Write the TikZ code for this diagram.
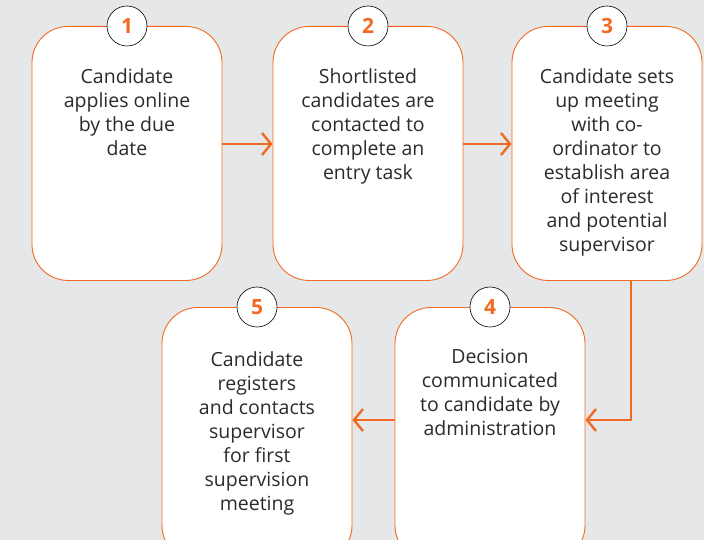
\documentclass[tikz,border=0pt]{standalone}
\usepackage{fontspec}
\setmainfont{Open Sans}
\usetikzlibrary{arrows.meta}
\definecolor{bg}{HTML}{E6E7E8}
\definecolor{orng}{HTML}{F26A21}
\definecolor{txt}{HTML}{2B2B2B}
\tikzset{
  stepbox/.style={draw=orng, line width=0.9pt, fill=white, rounded corners=36pt,
    minimum width=190pt, minimum height=254pt, inner sep=0pt, anchor=north},
  boxtext/.style={anchor=north, align=center, text=txt, inner sep=0pt,
    font=\fontsize{19.5pt}{24pt}\selectfont},
  numcirc/.style={circle, draw=black, line width=0.6pt, fill=white, minimum size=40pt,
    inner sep=0pt, text=orng, font=\fontsize{21pt}{24pt}\selectfont\bfseries},
  flow/.style={draw=orng, line width=2.4pt, -{Straight Barb[length=9pt,width=22pt,line width=2.4pt]}}
}
\begin{document}
\begin{tikzpicture}[x=1pt,y=-1pt]
\fill[bg] (0,0) rectangle (704,540);
\useasboundingbox (0,0) rectangle (704,540);
\begin{scope}
\clip (0,0) rectangle (704,540);
\node[stepbox] (b1) at (127,26) {};
\node[stepbox] (b2) at (368,26) {};
\node[stepbox] (b3) at (607,26) {};
\node[stepbox] (b5) at (257,307) {};
\node[stepbox] (b4) at (490,307) {};
\end{scope}
\node[numcirc] (c1) at (b1.north) {1};
\node[numcirc] (c2) at (b2.north) {2};
\node[numcirc] (c3) at (b3.north) {3};
\node[numcirc] (c5) at (b5.north) {5};
\node[numcirc] (c4) at (b4.north) {4};
\node[boxtext] (t1) at ([yshift=-42pt]b1.north) {Candidate\\applies online\\by the due\\date};
\node[boxtext] (t2) at ([yshift=-42pt]b2.north) {Shortlisted\\candidates are\\contacted to\\complete an\\entry task};
\node[boxtext] (t3) at ([yshift=-42pt]b3.north) {Candidate sets\\up meeting\\with co-\\ordinator to\\establish area\\of interest\\and potential\\supervisor};
\node[boxtext] (t5) at ([yshift=-44pt]b5.north) {Candidate\\registers\\and contacts\\supervisor\\for first\\supervision\\meeting};
\node[boxtext] (t4) at ([yshift=-42pt]b4.north) {Decision\\communicated\\to candidate by\\administration};
\coordinate (a1) at (b1.east |- 0,144);
\coordinate (a2) at (b2.west |- 0,144);
\coordinate (a3) at (b2.east |- 0,144);
\coordinate (a4) at (b3.west |- 0,144);
\coordinate (d1) at (631,280);
\coordinate (d2) at (631,420);
\coordinate (d3) at (b4.east |- 0,420);
\coordinate (e1) at (b4.west |- 0,420);
\coordinate (e2) at (b5.east |- 0,420);
\draw[flow] (a1) -- (a2);
\draw[flow] (a3) -- (a4);
\draw[flow] (d1) -- (d2) -- (d3);
\draw[flow] (e1) -- (e2);
\end{tikzpicture}
\end{document}
